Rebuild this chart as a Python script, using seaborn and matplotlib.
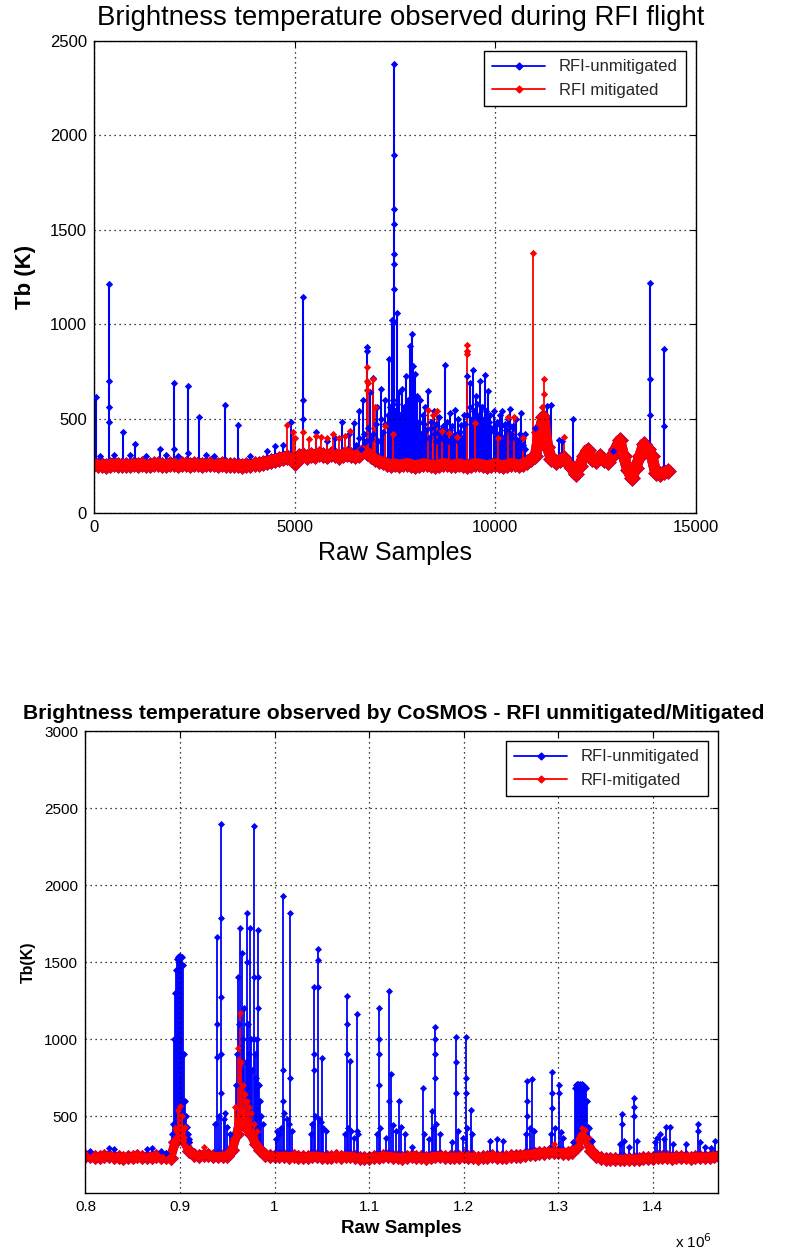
import numpy as np
import pandas as pd
import matplotlib
matplotlib.use("Agg")
import matplotlib.pyplot as plt
import seaborn as sns
from matplotlib.lines import Line2D

# ---------------- Panel 1 data (x = raw sample index, y = Tb in K) ----------------
p1_base_x = list(range(0, 14301, 100))
p1_base = [258, 252, 256, 250, 255, 260, 254, 257, 252, 256,
           258, 255, 260, 256, 253, 258, 262, 257, 255, 259,
           261, 256, 258, 262, 257, 260, 258, 255, 259, 262,
           258, 256, 260, 257, 254, 256, 252, 250, 255, 253,
           258,
           262, 266, 270, 276, 282, 288, 292, 296, 290, 265,
           300, 305, 298, 310, 302, 315, 308, 300, 312, 305, 298, 310, 315, 305, 300,
           310, 330, 320, 300, 285,
           275, 270, 262, 255, 260, 252, 258, 262, 256, 250,
           255, 260, 258, 252, 248, 255, 262, 258, 252, 256,
           260, 254, 250, 256, 262, 258, 254, 250, 256, 260,
           255, 250, 256, 262, 258, 254, 262, 270, 285,
           300, 430, 510, 350, 285, 268, 280, 290, 265, 240,
           205, 250, 300, 335, 285, 275, 300, 280, 270, 300,
           340, 385, 300, 230, 185, 240, 300, 365, 340, 300,
           210, 205, 215, 222]

p1_blue_spk_x = [40, 370, 723, 1010, 1653, 1990, 2337, 2613, 3277, 3582,
                 4503, 4910, 5217, 5524, 5800, 6000, 6188, 6350, 6474, 6597,
                 6700, 6801, 6870, 6954, 7050, 7158, 7250, 7362, 7420, 7480,
                 7540, 7600, 7669, 7720, 7771, 7830, 7873, 7924, 7960, 8006,
                 8060, 8129, 8200, 8260, 8333, 8400, 8460, 8520, 8588, 8650,
                 8741, 8800, 8860, 8930, 8996, 9060, 9149, 9220, 9302, 9380,
                 9455, 9530, 9609, 9680, 9741, 9813, 9880, 9966, 10050, 10120,
                 10170, 10250, 10320, 10375, 10450, 10520, 10630, 10750, 10988, 11280,
                 11376, 11596, 11652, 11929, 12929, 13860, 14200]
p1_blue_spk_y = [615, 1215, 430, 365, 340, 688, 674, 511, 574, 468,
                 357, 482, 1142, 429, 380, 400, 482, 420, 476, 539,
                 600, 880, 640, 717, 560, 656, 600, 815, 1020, 2380,
                 1060, 640, 656, 560, 727, 600, 884, 950, 780, 734,
                 620, 601, 520, 560, 646, 480, 540, 470, 511, 440,
                 782, 480, 530, 460, 547, 500, 468, 520, 727, 690,
                 758, 620, 700, 560, 730, 646, 520, 539, 480, 520,
                 539, 470, 500, 552, 460, 500, 530, 420, 451, 566,
                 574, 385, 383, 500, 331, 1217, 871]

p1_blue_low_x = [6540, 6600, 6660, 6720, 6780, 6840, 6900, 6960, 7020, 7080,
                 7140, 7200, 7260, 7320, 7380, 7440, 7500, 7560, 7620, 7680,
                 7740, 7800, 7860, 7920, 7980, 8040, 8100, 8160, 8220, 8280,
                 8340, 8400, 8460, 8520, 8580, 8640, 8700, 8760, 8820, 8880,
                 8940, 9000, 9060, 9120, 9180, 9240, 9300, 9360, 9420, 9480,
                 9540, 9600, 9660, 9720, 9780, 9840, 9900, 9960, 10020, 10080,
                 10140, 10200, 10260, 10320, 10380, 10440, 10500, 10560, 10620, 10680,
                 10740,
                 150, 500, 900, 1300, 1800, 2100, 2800, 3000, 3900, 4300, 4700]
p1_blue_low_y = [360, 400, 340, 420, 380, 450, 390, 420, 470, 380,
                 500, 430, 470, 520, 560, 600, 540, 580, 520, 480,
                 530, 470, 510, 560, 500, 450, 480, 420, 470, 440,
                 400, 450, 420, 380, 430, 400, 460, 420, 380, 440,
                 400, 420, 380, 430, 400, 470, 520, 560, 500, 540,
                 580, 520, 560, 500, 540, 480, 450, 430, 470, 420,
                 460, 400, 440, 470, 420, 450, 400, 380, 420, 360,
                 340,
                 300, 310, 305, 300, 310, 300, 305, 300, 300, 330, 360]

p1_blue_mid_x = [370, 370, 370, 5217, 5217, 7480, 7480, 7480, 7480, 7480,
                 7480, 7480, 6801, 13860, 13860, 14200, 1990, 2337]
p1_blue_mid_y = [700, 560, 480, 597, 500, 1899, 1612, 1532, 1372, 1319,
                 1186, 1011, 859, 708, 521, 463, 340, 320]

p1_red_spk_x = [4802, 4950, 5013, 5217, 5350, 5524, 5650, 5800, 5950, 6100,
                6250, 6372, 6801, 6830, 6954, 7000, 7260, 7450, 8331, 8456,
                8536, 8665, 8843, 9040, 9302, 9506, 10068, 10323, 10477, 10682,
                10950, 11205, 11703]
p1_red_spk_y = [468, 430, 400, 427, 390, 410, 405, 395, 420, 400,
                410, 434, 775, 690, 710, 560, 459, 420, 548, 521,
                539, 433, 424, 405, 888, 476, 396, 511, 511, 399,
                1378, 711, 405]
p1_red_mid_x = [6801, 6801, 9302, 9302, 11205, 11160]
p1_red_mid_y = [700, 650, 860, 840, 628, 560]

p1_xticks = [0, 5000, 10000, 15000]
p1_yticks = [0, 500, 1000, 1500, 2000, 2500]

# ---------------- Panel 2 data (x in units of 10^6 raw samples) ----------------
p2_base_x = list(np.round(np.arange(0.800, 1.4701, 0.005), 3))
p2_base = [240, 238, 236, 235, 238, 240, 236, 232, 230, 233,
           236, 238, 235, 233, 236, 238, 236, 232, 230,
           330, 420, 330, 270, 245, 240, 250, 245, 238, 238,
           240, 242, 280, 380, 520, 430, 380, 320, 280, 250,
           240, 240,
           238, 240, 236, 238, 235, 232, 236, 240, 238, 235,
           232, 234, 238, 236, 240, 238, 234, 228, 226, 230,
           234, 236, 240, 238, 235, 232, 230, 234, 238, 236,
           233, 230, 234, 238, 240, 236, 234, 232, 236, 238,
           235, 232, 230, 233, 236, 238, 234, 232, 236, 238,
           240, 242, 248,
           252, 256, 260, 262, 265, 266, 264, 262, 262, 268,
           300, 370, 345, 275,
           240, 228, 222, 220, 222, 218, 220, 224, 222, 220, 225,
           228, 230, 232, 235, 232, 230, 233, 235, 232, 230,
           234, 236, 233, 235, 238, 240]

p2_blue_c1_x = [0.892, 0.893, 0.894, 0.895, 0.896, 0.897, 0.898, 0.899, 0.900, 0.901,
                0.902, 0.903, 0.904, 0.905, 0.906, 0.907, 0.908, 0.909, 0.910]
p2_blue_c1_y = [380, 450, 1000, 1300, 1450, 1520, 1535, 1540, 1540, 1535,
                1530, 1480, 900, 600, 500, 430, 380, 350, 330]
p2_blue_c2_x = [1.318, 1.319, 1.320, 1.321, 1.322, 1.323, 1.324, 1.325, 1.326, 1.327,
                1.328, 1.329, 1.330, 1.331]
p2_blue_c2_y = [680, 700, 705, 705, 700, 705, 700, 705, 700, 695,
                690, 680, 600, 430]

p2_blue_spk_x = [0.939, 0.9437, 0.9615, 0.9637, 0.9655, 0.968, 0.9708, 0.9742, 0.9778, 0.9824,
                 1.0084, 1.0162, 1.0418, 1.0454, 1.050, 1.0763, 1.0795, 1.0869, 1.1105, 1.121,
                 1.1235, 1.132, 1.1573, 1.1661, 1.1693, 1.1914, 1.2027, 1.2073, 1.2672, 1.2724,
                 1.2935, 1.3005, 1.303, 1.3675, 1.3805, 1.4044, 1.4143, 1.418, 1.4354, 1.4477,
                 1.466, 1.1457, 1.228, 1.235, 1.242]
p2_blue_spk_y = [1661, 2398, 1400, 1719, 1560, 1200, 1820, 1719, 2381, 1708,
                 1930, 1816, 1341, 1585, 878, 1281, 854, 1165, 1201, 1309,
                 776, 597, 684, 533, 1076, 1014, 1014, 539, 727, 738,
                 787, 699, 394, 511, 619, 360, 431, 431, 317, 446,
                 338, 297, 340, 350, 340]

p2_blue_low_x = [0.9595, 0.9605, 0.962, 0.9645, 0.9665, 0.9695, 0.972, 0.973, 0.9755, 0.9765,
                 0.979, 0.9805, 0.981, 0.9835, 0.9845, 0.986, 0.988,
                 0.937, 0.941, 0.946, 0.948, 0.950, 0.953,
                 1.001, 1.003, 1.005, 1.007, 1.010, 1.013, 1.015, 1.018,
                 1.038, 1.040, 1.043, 1.047, 1.049, 1.051, 1.054,
                 1.074, 1.078, 1.081, 1.084, 1.088,
                 1.108, 1.112, 1.118, 1.125, 1.128, 1.134, 1.138,
                 1.158, 1.163, 1.168, 1.171, 1.175,
                 1.188, 1.194, 1.199, 1.204, 1.209,
                 1.266, 1.270, 1.274,
                 1.292, 1.297, 1.305,
                 1.316, 1.333, 1.336,
                 1.365, 1.370, 1.375, 1.383,
                 1.402, 1.408, 1.412, 1.421,
                 1.450, 1.455, 1.462,
                 0.805, 0.825, 0.830, 0.865, 0.870, 0.880, 0.885]
p2_blue_low_y = [700, 900, 1100, 950, 1000, 850, 1100, 900, 1000, 800,
                 900, 750, 1000, 700, 600, 500, 450,
                 450, 500, 480, 520, 430, 380,
                 350, 400, 380, 420, 520, 480, 450, 400,
                 380, 450, 500, 480, 460, 420, 400,
                 380, 420, 400, 360, 380,
                 380, 420, 360, 440, 400, 430, 380,
                 380, 350, 420, 450, 380,
                 330, 400, 360, 420, 380,
                 380, 420, 400,
                 380, 420, 360,
                 330, 420, 340,
                 320, 340, 300, 340,
                 330, 380, 350, 320,
                 330, 300, 290,
                 270, 290, 285, 285, 295, 270, 262]

p2_blue_mid_x = [0.939, 0.939, 0.9437, 0.9437, 0.9437, 0.9437, 0.9778, 0.9778, 0.9824, 0.9824,
                 0.9824, 0.9708, 0.9708, 1.0084, 1.0084, 1.0162, 1.0454, 1.0454, 1.0418, 1.0418,
                 1.0763, 1.0763, 1.0869, 1.1105, 1.1105, 1.1105, 1.121, 1.1693, 1.1693, 1.1693,
                 1.1914, 1.1914, 1.2027, 1.2027, 1.2672, 1.2672, 1.2935, 1.2935, 1.3005, 1.3675,
                 1.3805, 1.3805, 1.4477]
p2_blue_mid_y = [1100, 880, 1784, 1276, 900, 650, 1400, 1000, 1400, 1200,
                 700, 1500, 1100, 800, 600, 750, 1514, 1341, 900, 800,
                 1100, 900, 400, 1000, 900, 700, 600, 1000, 900, 750,
                 850, 650, 750, 650, 600, 500, 650, 550, 650, 450,
                 560, 500, 400]

p2_red_spk_x = [0.895, 0.898, 0.900, 0.902, 0.905, 0.925, 0.958, 0.961, 0.963, 0.965,
                0.967, 0.969, 0.971, 0.973, 0.975, 0.978, 0.981, 1.295, 1.325, 1.328]
p2_red_spk_y = [420, 540, 565, 500, 430, 300, 560, 943, 1169, 850,
                700, 640, 600, 560, 520, 450, 400, 317, 420, 410]

p2_xticks = [0.8, 0.9, 1.0, 1.1, 1.2, 1.3, 1.4]
p2_xticklabels = ["0.8", "0.9", "1", "1.1", "1.2", "1.3", "1.4"]
p2_yticks = [500, 1000, 1500, 2000, 2500, 3000]

BLUE = "#0000ff"
RED = "#ff0000"

# ---------------- styling ----------------
sns.set_theme(style="white")
plt.rcParams["font.family"] = ["Liberation Sans", "DejaVu Sans"]
plt.rcParams["axes.unicode_minus"] = False

fig = plt.figure(figsize=(7.85, 12.55), dpi=100)
ax1 = fig.add_axes([0.1197, 0.5912, 0.7669, 0.3761])
ax2 = fig.add_axes([0.1083, 0.0494, 0.8064, 0.3681])


def spike_frame(xs, ys, bx, by):
    xs = np.asarray(xs, float)
    ys = np.asarray(ys, float)
    foot = np.interp(xs, np.asarray(bx, float), np.asarray(by, float))
    return pd.DataFrame({
        "x": np.repeat(xs, 2),
        "y": np.column_stack([foot, ys]).ravel(),
        "id": np.repeat(np.arange(len(xs)), 2),
    })


def draw_series(ax, bx, by, groups, marks, color, band_lw, spike_lw, ms):
    sns.lineplot(x=bx, y=by, ax=ax, color=color, linewidth=band_lw,
                 estimator=None, sort=False)
    sns.scatterplot(x=bx, y=by, ax=ax, color=color, marker="D",
                    s=band_lw * 9, linewidth=0)
    for gx, gy in groups:
        assert len(gx) == len(gy)
        df = spike_frame(gx, gy, bx, by)
        sns.lineplot(data=df, x="x", y="y", units="id", estimator=None,
                     sort=False, ax=ax, color=color, linewidth=spike_lw)
    mx, my = [], []
    for gx, gy in groups + marks:
        assert len(gx) == len(gy)
        mx += list(gx)
        my += list(gy)
    sns.scatterplot(x=mx, y=my, ax=ax, color=color, marker="D", s=ms,
                    linewidth=0, zorder=3)


assert len(p1_base_x) == len(p1_base)
assert len(p2_base_x) == len(p2_base)

# Panel 1
draw_series(ax1, p1_base_x, p1_base,
            [(p1_blue_spk_x, p1_blue_spk_y), (p1_blue_low_x, p1_blue_low_y)],
            [(p1_blue_mid_x, p1_blue_mid_y)], BLUE, 8, 1.5, 14)
draw_series(ax1, p1_base_x, p1_base,
            [(p1_red_spk_x, p1_red_spk_y)],
            [(p1_red_mid_x, p1_red_mid_y)], RED, 8, 1.3, 14)

# Panel 2
draw_series(ax2, p2_base_x, p2_base,
            [(p2_blue_c1_x, p2_blue_c1_y), (p2_blue_c2_x, p2_blue_c2_y),
             (p2_blue_spk_x, p2_blue_spk_y), (p2_blue_low_x, p2_blue_low_y)],
            [(p2_blue_mid_x, p2_blue_mid_y)], BLUE, 6.5, 1.3, 13)
draw_series(ax2, p2_base_x, p2_base,
            [(p2_red_spk_x, p2_red_spk_y)], [], RED, 6.5, 1.3, 13)

for ax in (ax1, ax2):
    ax.grid(True, color="black", linestyle=(0, (1, 3)), linewidth=0.9)
    ax.set_axisbelow(False)
    ax.tick_params(direction="in", top=True, right=True, length=4,
                   width=0.8, color="black", labelcolor="black")
    for s in ax.spines.values():
        s.set_color("black")
        s.set_linewidth(1.0)

ax1.set_xlim(0, 15000)
ax1.set_ylim(0, 2500)
ax1.set_xticks(p1_xticks)
ax1.set_yticks(p1_yticks)
ax1.tick_params(labelsize=12, pad=5)
ax1.set_title("Brightness temperature observed during RFI flight",
              fontsize=19.8, pad=11.5, color="black", x=0.51)
ax1.set_xlabel("Raw Samples", fontsize=18, labelpad=4, color="black")
ax1.set_ylabel("Tb (K)", fontsize=16, fontweight="bold", labelpad=10, color="black")

ax2.set_xlim(0.7995, 1.469)
ax2.set_ylim(0, 3000)
ax2.set_xticks(p2_xticks)
ax2.set_xticklabels(p2_xticklabels)
ax2.set_yticks(p2_yticks)
ax2.tick_params(labelsize=11, pad=5)
ax2.set_title("Brightness temperature observed by CoSMOS - RFI unmitigated/Mitigated",
              fontsize=15.2, fontweight="bold", pad=9, color="black", x=0.487)
ax2.set_xlabel("Raw Samples", fontsize=13.5, fontweight="bold", labelpad=4, color="black")
ax2.set_ylabel("Tb(K)", fontsize=11.5, fontweight="bold", labelpad=6, color="black")
ax2.text(0.962, -0.105, r"x 10$^{6}$", transform=ax2.transAxes, ha="center",
         va="center", fontsize=11, color="black")


def legend_handles(labels):
    return [Line2D([0], [0], color=BLUE, lw=1.3, marker="D", markersize=3.5, label=labels[0]),
            Line2D([0], [0], color=RED, lw=1.3, marker="D", markersize=3.5, label=labels[1])]


for ax, labels in ((ax1, ["RFI-unmitigated", "RFI mitigated"]),
                   (ax2, ["RFI-unmitigated", "RFI-mitigated"])):
    leg = ax.legend(handles=legend_handles(labels), loc="upper right",
                    fontsize=12, frameon=True, fancybox=False, framealpha=1,
                    edgecolor="black", borderaxespad=0.6, handlelength=3.2,
                    borderpad=0.5, labelspacing=0.5)
    leg.get_frame().set_linewidth(1.0)

fig.savefig("out.png", dpi=100)
